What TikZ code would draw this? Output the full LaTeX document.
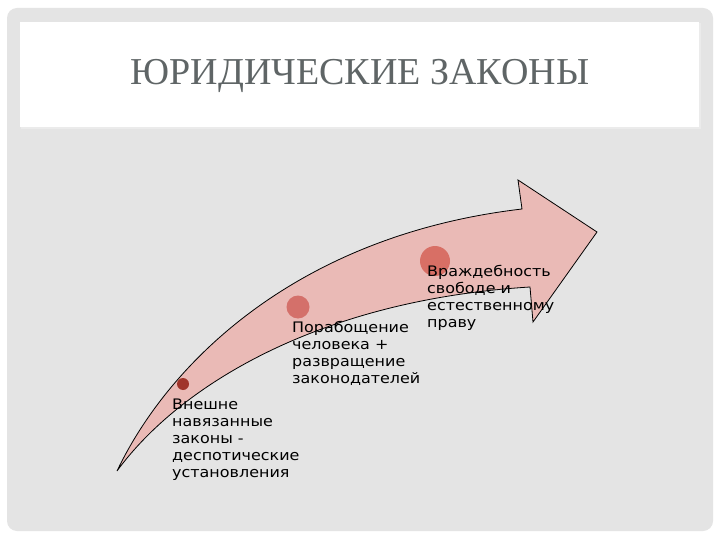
\documentclass[tikz,border=0pt]{standalone}
\usepackage{fontspec}
\setmainfont{Liberation Serif}
\newfontfamily\stepfont{DejaVu Sans}[FakeStretch=1.1]

\definecolor{slidegrey}{RGB}{228,228,228}
\definecolor{titlegrey}{RGB}{95,101,102}
\definecolor{arrowpink}{RGB}{234,186,182}
\definecolor{dotdark}{RGB}{160,52,42}
\definecolor{dotmid}{RGB}{212,112,106}
\definecolor{dotbig}{RGB}{216,111,101}

\tikzset{
  steptext/.style={anchor=north west, align=left, inner sep=0pt,
    font=\stepfont\fontsize{14.5}{17}\selectfont, text=black},
  dot/.style={circle, inner sep=0pt, draw=none}
}

\begin{document}
\begin{tikzpicture}[x=1pt, y=-1pt]
\useasboundingbox (0,0) rectangle (720,540);

% slide
\fill[white] (0,0) rectangle (720,540);
\fill[slidegrey, rounded corners=10pt] (7,8) rectangle (713,531);
\fill[black!8] (21,23) rectangle (701,129);
\fill[white] (20,22) rectangle (699,127);
\node[text=titlegrey, font=\fontsize{38}{42}\selectfont] (title) at (360,76) {ЮРИДИЧЕСКИЕ ЗАКОНЫ};

% curved arrow
\def\tipx{597};
\def\tipy{232};
\filldraw[fill=arrowpink, draw=black, line width=0.8pt, line join=miter]
  (117,471) .. controls (170,360) and (300,235) .. (522,209)
  -- (518,180) -- (\tipx,\tipy) -- (533,322) -- (530,287)
  .. controls (320,300) and (180,385) .. (117,471) -- cycle;

% points on the arrow
\node[dot, fill=dotdark, minimum size=12pt] (d1) at (183,384) {};
\node[dot, fill=dotmid, minimum size=23pt] (d2) at (298,307) {};
\node[dot, fill=dotbig, minimum size=30pt] (d3) at (435,261) {};

% texts
\node[steptext] (t1) at (172,399) {Внешне\\навязанные\\законы -\\деспотические\\установления};
\node[steptext] (t2) at (292,321) {Порабощение\\человека +\\развращение\\законодателей};
\node[steptext] (t3) at (427,265) {Враждебность\\свободе и\\естественному\\праву};

\end{tikzpicture}
\end{document}
